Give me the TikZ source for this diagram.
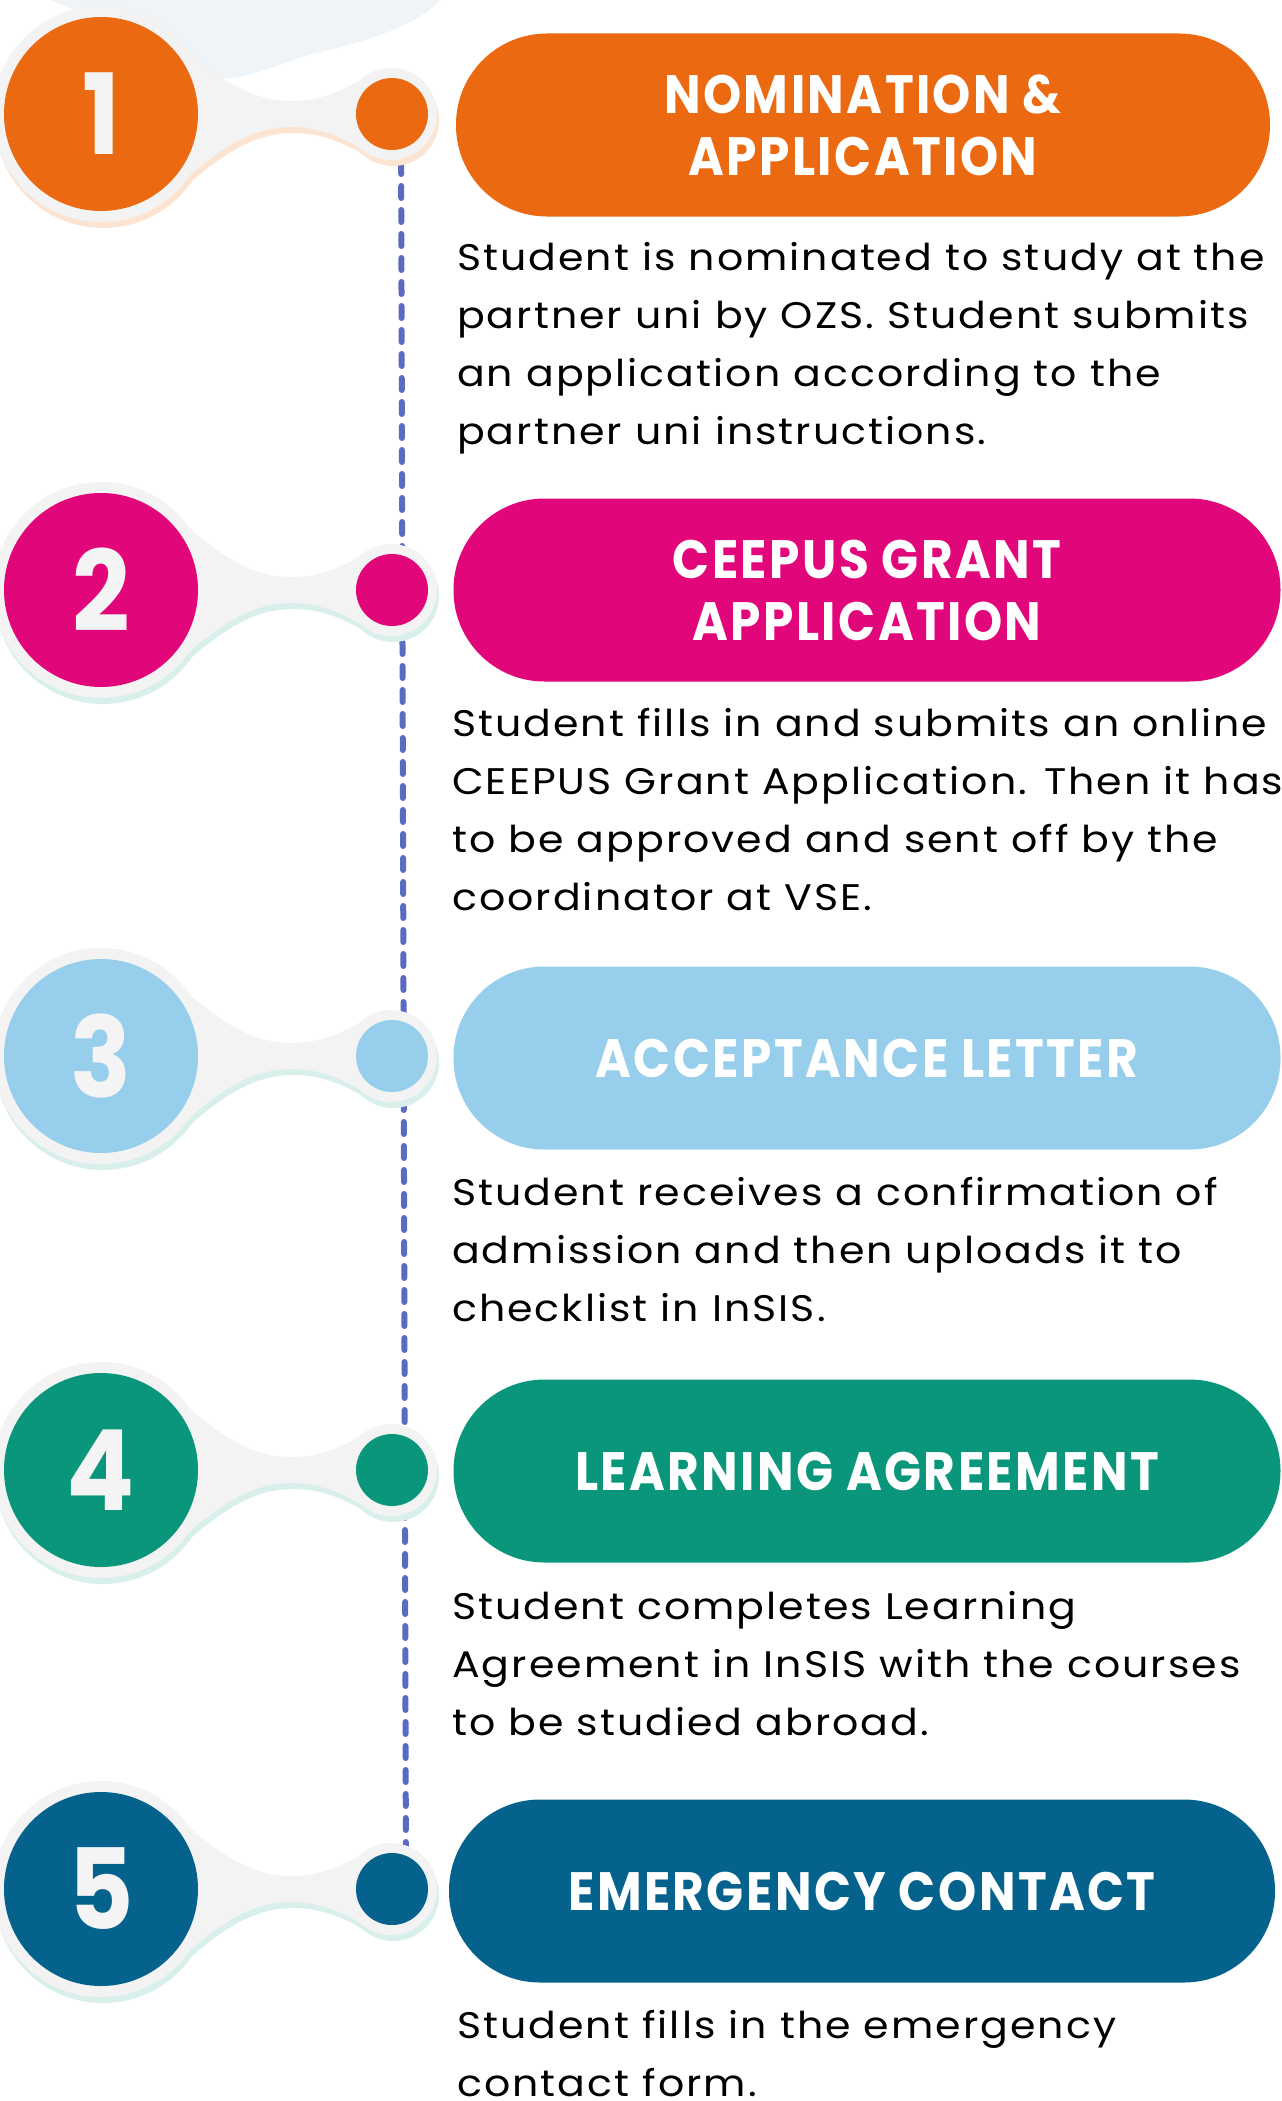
\documentclass[tikz,border=0pt]{standalone}
\usepackage{fontspec}
\setmainfont{Poppins}[FakeStretch=1.11,LetterSpace=5.5]
\newfontfamily\headfont{Poppins}[FakeStretch=0.9,LetterSpace=4.5]
\usetikzlibrary{backgrounds}

\definecolor{stepone}{HTML}{EB6A11}
\definecolor{steptwo}{HTML}{E2067B}
\definecolor{stepthree}{HTML}{97CEEB}
\definecolor{stepfour}{HTML}{0A967A}
\definecolor{stepfive}{HTML}{04628C}
\definecolor{timeline}{HTML}{5B6BC2}
\definecolor{halogrey}{HTML}{F3F3F3}
\definecolor{tintorange}{HTML}{FCE4D2}
\definecolor{tintteal}{HTML}{D9EFEC}
\definecolor{cloud}{HTML}{EEF4F8}
\definecolor{numwhite}{HTML}{F4F4F4}

\begin{document}
\begin{tikzpicture}[x=1pt,y=-1pt,
    halo/.pic={
      \fill[#1] (2,6) circle[radius=108] (292,6) circle[radius=46];
      \fill[#1] (90,-56) .. controls (132,-19) and (162,-7) .. (192,-7)
        .. controls (217,-7) and (237,-14) .. (260,-27) -- (260,39)
        .. controls (237,26) and (217,19) .. (192,19)
        .. controls (162,19) and (132,31) .. (90,68) -- cycle;
      \fill[halogrey] (0,0) circle[radius=108] (290,0) circle[radius=46];
      \fill[halogrey] (88,-62) .. controls (130,-25) and (160,-13) .. (190,-13)
        .. controls (215,-13) and (235,-20) .. (258,-33) -- (258,33)
        .. controls (235,20) and (215,13) .. (190,13)
        .. controls (160,13) and (130,25) .. (88,62) -- cycle;
    },
    pill/.style={rectangle,rounded corners=91pt,minimum height=183pt,inner sep=0pt,
      text=white,align=center,font=\headfont\bfseries\fontsize{54}{62}\selectfont},
    body/.style={anchor=north west,inner sep=0pt,align=left,text=black,
      font=\fontsize{37}{58}\selectfont}]

  \useasboundingbox (0,0) rectangle (1282,2101);

  \begin{scope}[every node/.style={circle,inner sep=0pt,minimum size=194pt,text=numwhite,
      font=\headfont\bfseries\fontsize{112}{112}\selectfont}]
    \node[fill=stepone]   (n1) at (101,114)  {1};
    \node[fill=steptwo]   (n2) at (101,590)  {2};
    \node[fill=stepthree] (n3) at (101,1056) {3};
    \node[fill=stepfour]  (n4) at (101,1470) {4};
    \node[fill=stepfive]  (n5) at (101,1889) {5};
  \end{scope}

  \begin{scope}[every node/.style={circle,inner sep=0pt,minimum size=72pt}]
    \node[fill=stepone]   (d1) at (392,114)  {};
    \node[fill=steptwo]   (d2) at (392,590)  {};
    \node[fill=stepthree] (d3) at (392,1056) {};
    \node[fill=stepfour]  (d4) at (392,1470) {};
    \node[fill=stepfive]  (d5) at (392,1889) {};
  \end{scope}

  \node[pill,fill=stepone,minimum width=814pt]   (p1) at (863,125)  {NOMINATION \&\\APPLICATION};
  \node[pill,fill=steptwo,minimum width=827pt]   (p2) at (867,590)  {CEEPUS GRANT\\APPLICATION};
  \node[pill,fill=stepthree,minimum width=827pt] (p3) at (867,1058) {ACCEPTANCE LETTER};
  \node[pill,fill=stepfour,minimum width=827pt]  (p4) at (867,1471) {LEARNING AGREEMENT};
  \node[pill,fill=stepfive,minimum width=826pt]  (p5) at (862,1891) {EMERGENCY CONTACT};

  \node[body] (t1) at (457,242)  {Student is nominated to study at the\\partner uni by OZS. Student submits\\an application according to the\\partner uni instructions.};
  \node[body] (t2) at (452,708)  {Student fills in and submits an online\\CEEPUS Grant Application. Then it has\\to be approved and sent off by the\\coordinator at VSE.};
  \node[body] (t3) at (452,1177) {Student receives a confirmation of\\admission and then uploads it to\\checklist in InSIS.};
  \node[body] (t4) at (452,1591) {Student completes Learning\\Agreement in InSIS with the courses\\to be studied abroad.};
  \node[body] (t5) at (457,2010) {Student fills in the emergency\\contact form.};

  \begin{pgfonlayer}{background}
    \fill[white] (0,0) rectangle (1282,2101);
    \fill[cloud] (50,0) -- (440,0) .. controls (420,22) and (380,38) .. (320,52)
      .. controls (280,62) and (250,80) .. (220,78) -- (110,24) -- cycle;
    % dashed timeline behind the halos
    \draw[timeline,line width=6pt,line cap=round,dash pattern=on 12pt off 12pt]
      ([xshift=9pt]d1.center) -- ([xshift=14pt]d5.center);
    \pic at (n1) {halo=tintorange};
    \pic at (n2) {halo=tintteal};
    \pic at (n3) {halo=tintteal};
    \pic at (n4) {halo=tintteal};
    \pic at (n5) {halo=tintteal};
  \end{pgfonlayer}

\end{tikzpicture}
\end{document}
